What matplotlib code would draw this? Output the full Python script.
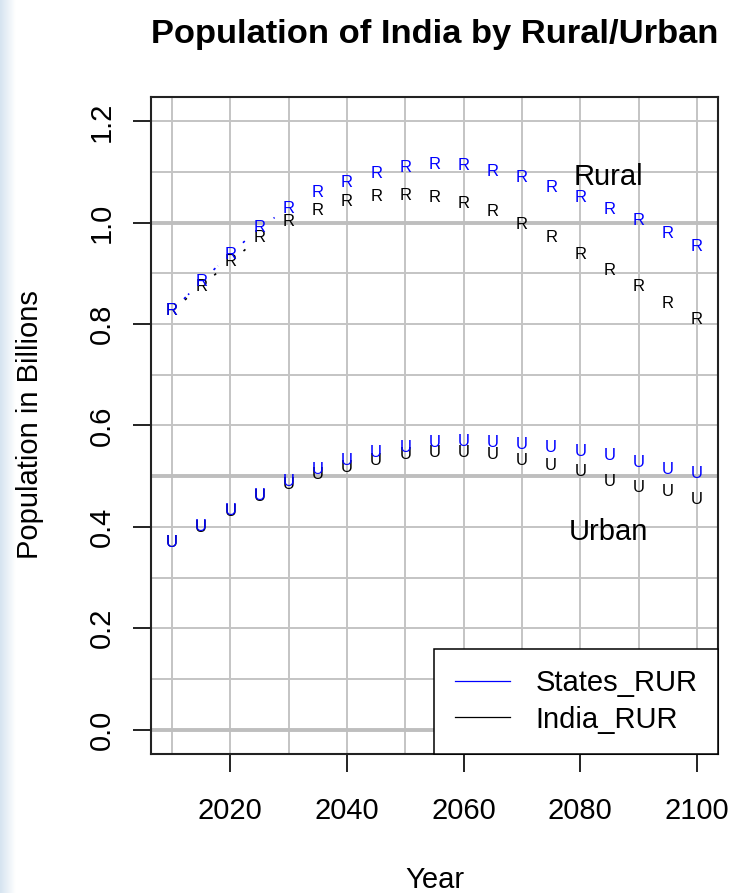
import matplotlib
matplotlib.use('Agg')
import matplotlib.pyplot as plt
import numpy as np
from matplotlib.lines import Line2D
from matplotlib.ticker import MultipleLocator

plt.rcParams['font.family'] = ['Liberation Sans', 'DejaVu Sans']

years = [2010, 2015, 2020, 2025, 2030, 2035, 2040, 2045, 2050, 2055,
         2060, 2065, 2070, 2075, 2080, 2085, 2090, 2095, 2100]
states_rural = [0.826, 0.884, 0.938, 0.990, 1.029, 1.059, 1.080, 1.097, 1.109, 1.115,
                1.112, 1.102, 1.090, 1.070, 1.050, 1.027, 1.004, 0.979, 0.953]
india_rural = [0.826, 0.875, 0.923, 0.970, 1.003, 1.025, 1.042, 1.051, 1.053, 1.050,
               1.038, 1.022, 0.996, 0.970, 0.937, 0.906, 0.874, 0.841, 0.810]
states_urban = [0.370, 0.401, 0.432, 0.462, 0.490, 0.513, 0.531, 0.546, 0.557, 0.566,
                0.569, 0.566, 0.562, 0.556, 0.548, 0.540, 0.527, 0.514, 0.506]
india_urban = [0.369, 0.398, 0.430, 0.460, 0.483, 0.503, 0.518, 0.531, 0.543, 0.546,
               0.546, 0.543, 0.531, 0.522, 0.509, 0.490, 0.477, 0.469, 0.454]
xticks = [2020, 2040, 2060, 2080, 2100]
yticks = [0.0, 0.2, 0.4, 0.6, 0.8, 1.0, 1.2]

W, H = 732, 893
fig = plt.figure(figsize=(W / 100, H / 100), dpi=100)

# light blue strip at the left edge of the screenshot
strip = fig.add_axes([0, 0, 16 / W, 1])
strip.imshow(np.linspace(0, 1, 20)[None, :], cmap=matplotlib.colors.LinearSegmentedColormap.from_list('s', ['#d6e4f0', '#ffffff']),
             aspect='auto', extent=[0, 1, 0, 1])
strip.axis('off')

ax = fig.add_axes([151 / W, (H - 754) / H, 567 / W, 657 / H])
ax.set_xlim(2006.4, 2103.6)
ax.set_ylim(-0.048, 1.248)

ax.set_xticks(xticks)
ax.set_yticks(yticks)
ax.set_yticklabels(['%.1f' % v for v in yticks])
ax.xaxis.set_minor_locator(MultipleLocator(10))
ax.yaxis.set_minor_locator(MultipleLocator(0.1))
ax.set_axisbelow(True)
ax.grid(which='both', color='#c4c4c4', lw=1.4)
for h in [0.0, 0.5, 1.0]:
    ax.axhline(h, color='#bebebe', lw=2.8, zorder=1)

ax.tick_params(which='major', length=13.3, width=1.4, color='#222222', labelsize=21)
ax.tick_params(which='minor', length=0)
ax.tick_params(axis='x', pad=18)
ax.tick_params(axis='y', pad=12, labelrotation=90)
plt.setp(ax.get_yticklabels(), va='center')
for s in ax.spines.values():
    s.set_color('#222222')
    s.set_linewidth(1.5)

# dotted connecting pieces (R type="b": line broken around each letter)
gap = 17
def dotted(xs, ys, color):
    pts = ax.transData.transform(np.column_stack([xs, ys]))
    inv = ax.transData.inverted()
    for p0, p1 in zip(pts[:-1], pts[1:]):
        d = np.hypot(*(p1 - p0))
        if d > 2 * gap:
            u = (p1 - p0) / d
            seg = inv.transform([p0 + u * gap, p1 - u * gap])
            ax.plot(seg[:, 0], seg[:, 1], color=color, lw=1.2, ls=(0, (1.5, 2)), zorder=2)

for ys, c in [(india_rural, 'black'), (states_rural, 'blue'),
              (india_urban, 'black'), (states_urban, 'blue')]:
    dotted(years, ys, c)

for ys, c, ch in [(india_rural, 'black', 'R'), (india_urban, 'black', 'U'),
                  (states_rural, 'blue', 'R'), (states_urban, 'blue', 'U')]:
    for x, y in zip(years, ys):
        ax.text(x, y, ch, color=c, fontsize=12, ha='center', va='center', zorder=4)

ax.text(2084.9, 1.090, 'Rural', fontsize=21, ha='center', va='center', zorder=4)
ax.text(2084.8, 0.390, 'Urban', fontsize=21, ha='center', va='center', zorder=4)

handles = [Line2D([], [], color='blue', lw=0.9), Line2D([], [], color='black', lw=0.9)]
leg = ax.legend(handles, ['States_RUR', 'India_RUR'], loc='lower right', bbox_to_anchor=(1, 0),
                borderaxespad=0, fontsize=21, fancybox=False, edgecolor='black', framealpha=1,
                handlelength=1.9, handletextpad=0.88, borderpad=0.7, labelspacing=0.28)
leg.get_frame().set_linewidth(1.1)

cx = (151 + 718) / 2 / W
fig.text(cx, 1 - 43 / H, 'Population of India by Rural/Urban', fontsize=24.8, fontweight='bold',
         ha='center', va='baseline')
fig.text(cx, 1 - 888 / H, 'Year', fontsize=21, ha='center', va='baseline')
fig.text(30 / W, 1 - 425 / H, 'Population in Billions', fontsize=21, rotation=90,
         ha='center', va='center')

fig.savefig('out.png', dpi=100)
